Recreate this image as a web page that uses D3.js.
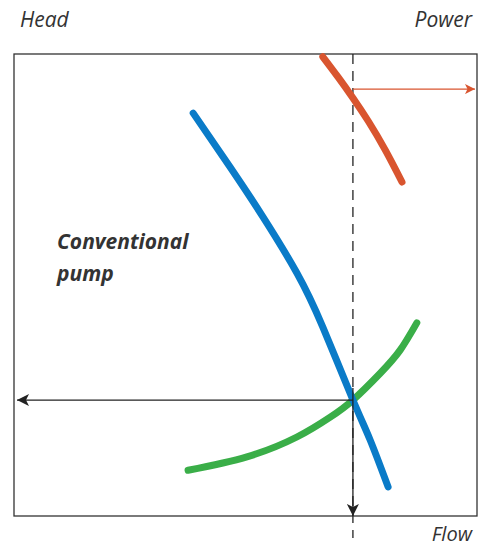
<!DOCTYPE html>
<html>
<head>
<meta charset="utf-8">
<script src="https://cdn.jsdelivr.net/npm/d3@7"></script>
<style>
  body { margin: 0; background: #fff; }
  text { font-family: "Open Sans", sans-serif; fill: #333; }
</style>
</head>
<body>
<div id="canvas"></div>
<script>
// curves (flow, head) on a 0-100 scale
const headFlow = [38.7, 46.7, 53.8, 61.1, 66.7, 73.2, 76.9, 80.8]
const headVals = [87.2, 75.5, 64.7, 52.6, 40.9, 25.1, 16.5, 6.3]
const powerFlow = [66.7, 70.0, 73.2, 76.5, 80.2, 83.8]
const powerVals = [99.4, 95.0, 90.5, 85.5, 79.2, 72.3]
const systemFlow = [37.6, 50.3, 61.1, 68.3, 73.2, 79.1, 83.4, 87.0]
const systemVals = [9.9, 12.8, 17.1, 21.4, 25.1, 30.9, 35.9, 41.8]
const dutyFlow = 73.2
const dutyHead = 25.1
const dutyPower = 92.4

const width = 483
const height = 548
const margin = { top: 54, left: 14, bottom: 32, right: 6 }
const iwidth = width - margin.left - margin.right
const iheight = height - margin.top - margin.bottom

const svg = d3.select('#canvas').append('svg')
  .attr('width', width)
  .attr('height', height)

const defs = svg.append('defs')
defs.append('marker')
  .attr('id', 'arrowDark')
  .attr('viewBox', '0 0 12 12')
  .attr('refX', 12).attr('refY', 6)
  .attr('markerWidth', 13).attr('markerHeight', 12)
  .attr('markerUnits', 'userSpaceOnUse')
  .attr('orient', 'auto')
  .append('path')
  .attr('d', 'M0,0 L12,6 L0,12 L3,6 Z')
  .attr('fill', '#222')
defs.append('marker')
  .attr('id', 'arrowRed')
  .attr('viewBox', '0 0 12 12')
  .attr('refX', 12).attr('refY', 6)
  .attr('markerWidth', 12).attr('markerHeight', 10)
  .attr('markerUnits', 'userSpaceOnUse')
  .attr('orient', 'auto')
  .append('path')
  .attr('d', 'M0,0 L12,6 L0,12 L3,6 Z')
  .attr('fill', '#d9552f')

const g = svg.append('g')
  .attr('transform', `translate(${margin.left},${margin.top})`)

const x = d3.scaleLinear().domain([0, 100]).range([0, iwidth])
const y = d3.scaleLinear().domain([0, 100]).range([iheight, 0])

// frame
g.append('rect')
  .attr('x', 0).attr('y', 0)
  .attr('width', iwidth).attr('height', iheight)
  .attr('fill', 'none')
  .attr('stroke', '#333')
  .attr('stroke-width', 1.3)

// dashed duty line
g.append('line')
  .attr('x1', x(dutyFlow)).attr('x2', x(dutyFlow))
  .attr('y1', 0).attr('y2', iheight + 22)
  .attr('stroke', '#222')
  .attr('stroke-width', 1.3)
  .attr('stroke-dasharray', '10,7')

const line = d3.line()
  .x((d) => x(d[0]))
  .y((d) => y(d[1]))
  .curve(d3.curveNatural)

const drawCurve = (xs, ys, color) => {
  g.append('path')
    .datum(xs.map((v, i) => [v, ys[i]]))
    .attr('d', line)
    .attr('fill', 'none')
    .attr('stroke', color)
    .attr('stroke-width', 7)
    .attr('stroke-linecap', 'round')
}

drawCurve(systemFlow, systemVals, '#3aae48')
drawCurve(headFlow, headVals, '#0a7bc8')
drawCurve(powerFlow, powerVals, '#d9552f')

// arrows
g.append('line')
  .attr('x1', x(dutyFlow)).attr('x2', x(dutyFlow))
  .attr('y1', y(dutyHead) - 12).attr('y2', iheight)
  .attr('stroke', '#222').attr('stroke-width', 1.3)
  .attr('marker-end', 'url(#arrowDark)')
g.append('line')
  .attr('x1', x(dutyFlow)).attr('x2', 3)
  .attr('y1', y(dutyHead)).attr('y2', y(dutyHead))
  .attr('stroke', '#222').attr('stroke-width', 1.3)
  .attr('marker-end', 'url(#arrowDark)')
g.append('line')
  .attr('x1', x(dutyFlow)).attr('x2', iwidth - 2)
  .attr('y1', y(dutyPower)).attr('y2', y(dutyPower))
  .attr('stroke', '#d9552f').attr('stroke-width', 1.3)
  .attr('marker-end', 'url(#arrowRed)')

// labels
svg.append('text').attr('x', 20).attr('y', 27)
  .style('font-size', '21px').style('font-style', 'italic')
  .text('Head')
svg.append('text').attr('x', 472).attr('y', 27)
  .attr('text-anchor', 'end')
  .style('font-size', '21px').style('font-style', 'italic')
  .text('Power')
svg.append('text').attr('x', 472).attr('y', 541)
  .attr('text-anchor', 'end')
  .style('font-size', '20px').style('font-style', 'italic')
  .text('Flow')

const label = svg.append('text')
  .style('font-size', '21px').style('font-style', 'italic').style('font-weight', 'bold')
  .attr('fill', '#222')
label.append('tspan').attr('x', 57).attr('y', 249).text('Conventional')
label.append('tspan').attr('x', 57).attr('y', 281).text('pump')
</script>
</body>
</html>
